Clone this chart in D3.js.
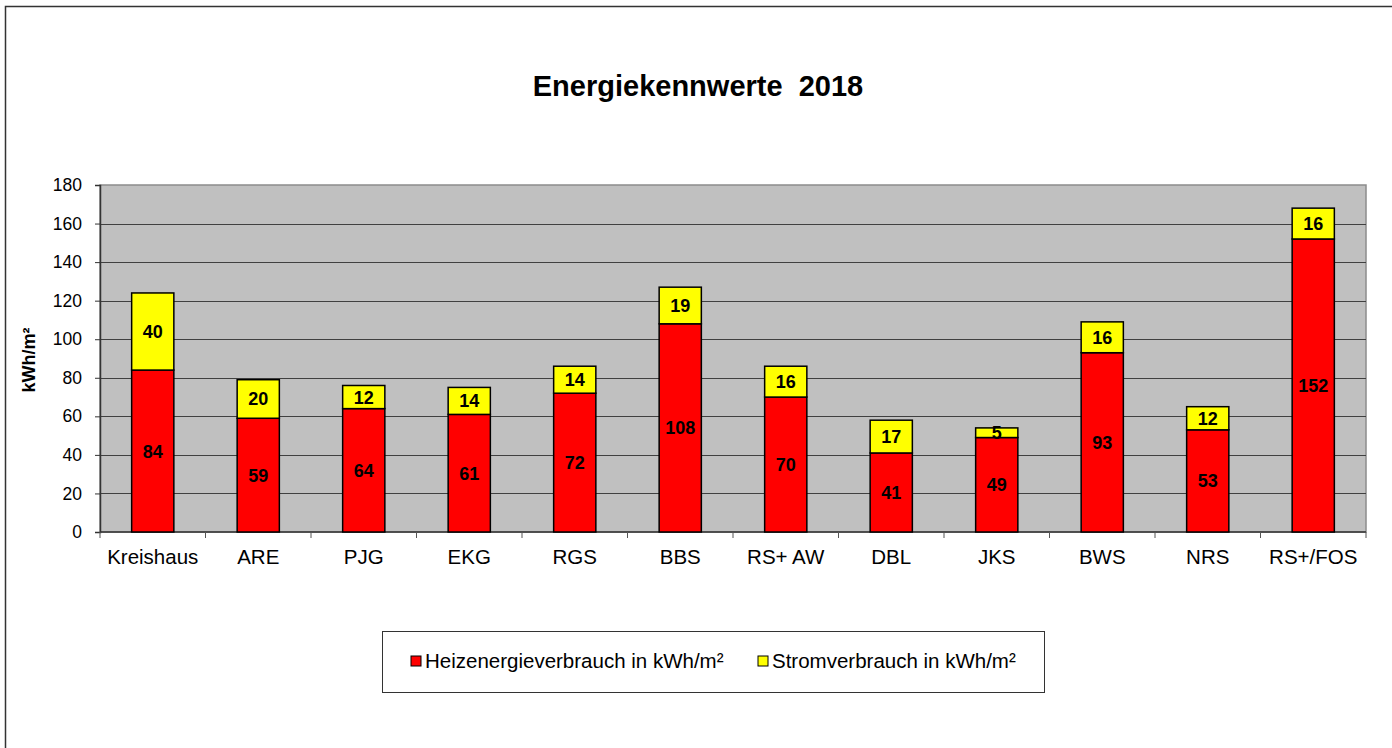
<!DOCTYPE html>
<html>
<head>
<meta charset="utf-8">
<script src="https://cdn.jsdelivr.net/npm/d3@7"></script>
<style>
	body { margin: 0; background: #fff; }
	text { font-family: "Liberation Sans", Arial, sans-serif; }
</style>
</head>
<body>
<svg id="chart" width="1392" height="748"></svg>
<script>
// data
var categories = ["Kreishaus", "ARE", "PJG", "EKG", "RGS", "BBS", "RS+ AW", "DBL", "JKS", "BWS", "NRS", "RS+/FOS"];
var heizung = [84, 59, 64, 61, 72, 108, 70, 41, 49, 93, 53, 152];
var strom = [40, 20, 12, 14, 14, 19, 16, 17, 5, 16, 12, 16];
var yTicks = [0, 20, 40, 60, 80, 100, 120, 140, 160, 180];
var seriesNames = ["Heizenergieverbrauch in kWh/m²", "Stromverbrauch in kWh/m²"];
var seriesColors = ["#ff0000", "#ffff00"];

var svg = d3.select("#chart");
var plot = { left: 100, right: 1366, top: 185, bottom: 532 };

// outer frame (only left and top edges visible)
svg.append("path")
	.attr("d", "M5.5,748 L5.5,6.5 L1392,6.5")
	.attr("fill", "none")
	.attr("stroke", "#333")
	.attr("stroke-width", 1.5);

svg.append("text")
	.attr("x", 698)
	.attr("y", 96)
	.attr("text-anchor", "middle")
	.attr("font-size", 29)
	.attr("font-weight", "bold")
	.attr("xml:space", "preserve")
	.text("Energiekennwerte  2018");

var x = d3.scaleBand().domain(categories).range([plot.left, plot.right]).paddingInner(0).paddingOuter(0);
var y = d3.scaleLinear().domain([0, 180]).range([plot.bottom, plot.top]);

// plot background
svg.append("rect")
	.attr("x", plot.left)
	.attr("y", plot.top)
	.attr("width", plot.right - plot.left)
	.attr("height", plot.bottom - plot.top)
	.attr("fill", "#c0c0c0")
	.attr("stroke", "#8c8c8c")
	.attr("stroke-width", 1.5);

// gridlines
svg.append("g").selectAll("line")
	.data(yTicks.filter(function (d) { return d > 0 && d < 180; }))
	.enter().append("line")
	.attr("x1", plot.left).attr("x2", plot.right)
	.attr("y1", function (d) { return Math.round(y(d)) + 0.5; })
	.attr("y2", function (d) { return Math.round(y(d)) + 0.5; })
	.attr("stroke", "#404040")
	.attr("stroke-width", 1.2);

// y axis
var yAxis = svg.append("g")
	.attr("transform", "translate(" + plot.left + ",0)")
	.call(d3.axisLeft(y).tickValues(yTicks).tickSize(5).tickPadding(13));
yAxis.select(".domain").attr("stroke", "#333").attr("stroke-width", 1.5);
yAxis.selectAll(".tick line").attr("stroke", "#333");
yAxis.selectAll("text").attr("font-size", 17.5).attr("fill", "#000")
	.attr("font-family", "Liberation Sans, Arial, sans-serif");

// x axis with ticks at band edges
var xAxis = svg.append("g")
	.attr("transform", "translate(0," + plot.bottom + ")");
xAxis.append("line")
	.attr("x1", plot.left).attr("x2", plot.right)
	.attr("stroke", "#333").attr("stroke-width", 1.5);
xAxis.selectAll(".edge")
	.data(d3.range(categories.length + 1))
	.enter().append("line")
	.attr("class", "edge")
	.attr("x1", function (i) { return plot.left + i * x.step(); })
	.attr("x2", function (i) { return plot.left + i * x.step(); })
	.attr("y1", 0).attr("y2", 6)
	.attr("stroke", "#555");
xAxis.selectAll(".lbl")
	.data(categories)
	.enter().append("text")
	.attr("class", "lbl")
	.attr("x", function (d) { return x(d) + x.bandwidth() / 2; })
	.attr("y", 32)
	.attr("text-anchor", "middle")
	.attr("font-size", 20.5)
	.text(function (d) { return d; });

// y title
svg.append("text")
	.attr("transform", "translate(35,360) rotate(-90)")
	.attr("text-anchor", "middle")
	.attr("font-size", 18)
	.attr("font-weight", "bold")
	.text("kWh/m²");

// stacked bars
var rows = categories.map(function (c, i) { return { cat: c, h: heizung[i], s: strom[i] }; });
var stack = d3.stack().keys(["h", "s"])(rows);
var barW = x.bandwidth() * 0.4;

var layers = svg.append("g").selectAll("g")
	.data(stack)
	.enter().append("g")
	.attr("fill", function (d, i) { return seriesColors[i]; });

layers.selectAll("rect")
	.data(function (d) { return d; })
	.enter().append("rect")
	.attr("x", function (d) { return x(d.data.cat) + (x.bandwidth() - barW) / 2; })
	.attr("y", function (d) { return y(d[1]); })
	.attr("width", barW)
	.attr("height", function (d) { return y(d[0]) - y(d[1]); })
	.attr("stroke", "#000")
	.attr("stroke-width", 1.5);

layers.selectAll("text")
	.data(function (d) { return d; })
	.enter().append("text")
	.attr("x", function (d) { return x(d.data.cat) + x.bandwidth() / 2; })
	.attr("y", function (d) { return (y(d[0]) + y(d[1])) / 2 + 6.5; })
	.attr("text-anchor", "middle")
	.attr("font-size", 18)
	.attr("font-weight", "bold")
	.attr("fill", "#000")
	.text(function (d) { return d[1] - d[0]; });

// legend
var legend = svg.append("g");
legend.append("rect")
	.attr("x", 382.5).attr("y", 631.5)
	.attr("width", 662).attr("height", 61)
	.attr("fill", "#fff")
	.attr("stroke", "#333");
var legendX = [411, 758];
seriesNames.forEach(function (name, i) {
	legend.append("rect")
		.attr("x", legendX[i]).attr("y", 656)
		.attr("width", 10).attr("height", 10)
		.attr("fill", seriesColors[i])
		.attr("stroke", "#000");
	legend.append("text")
		.attr("x", legendX[i] + 14).attr("y", 668)
		.attr("font-size", 20.5)
		.text(name);
});
</script>
</body>
</html>
